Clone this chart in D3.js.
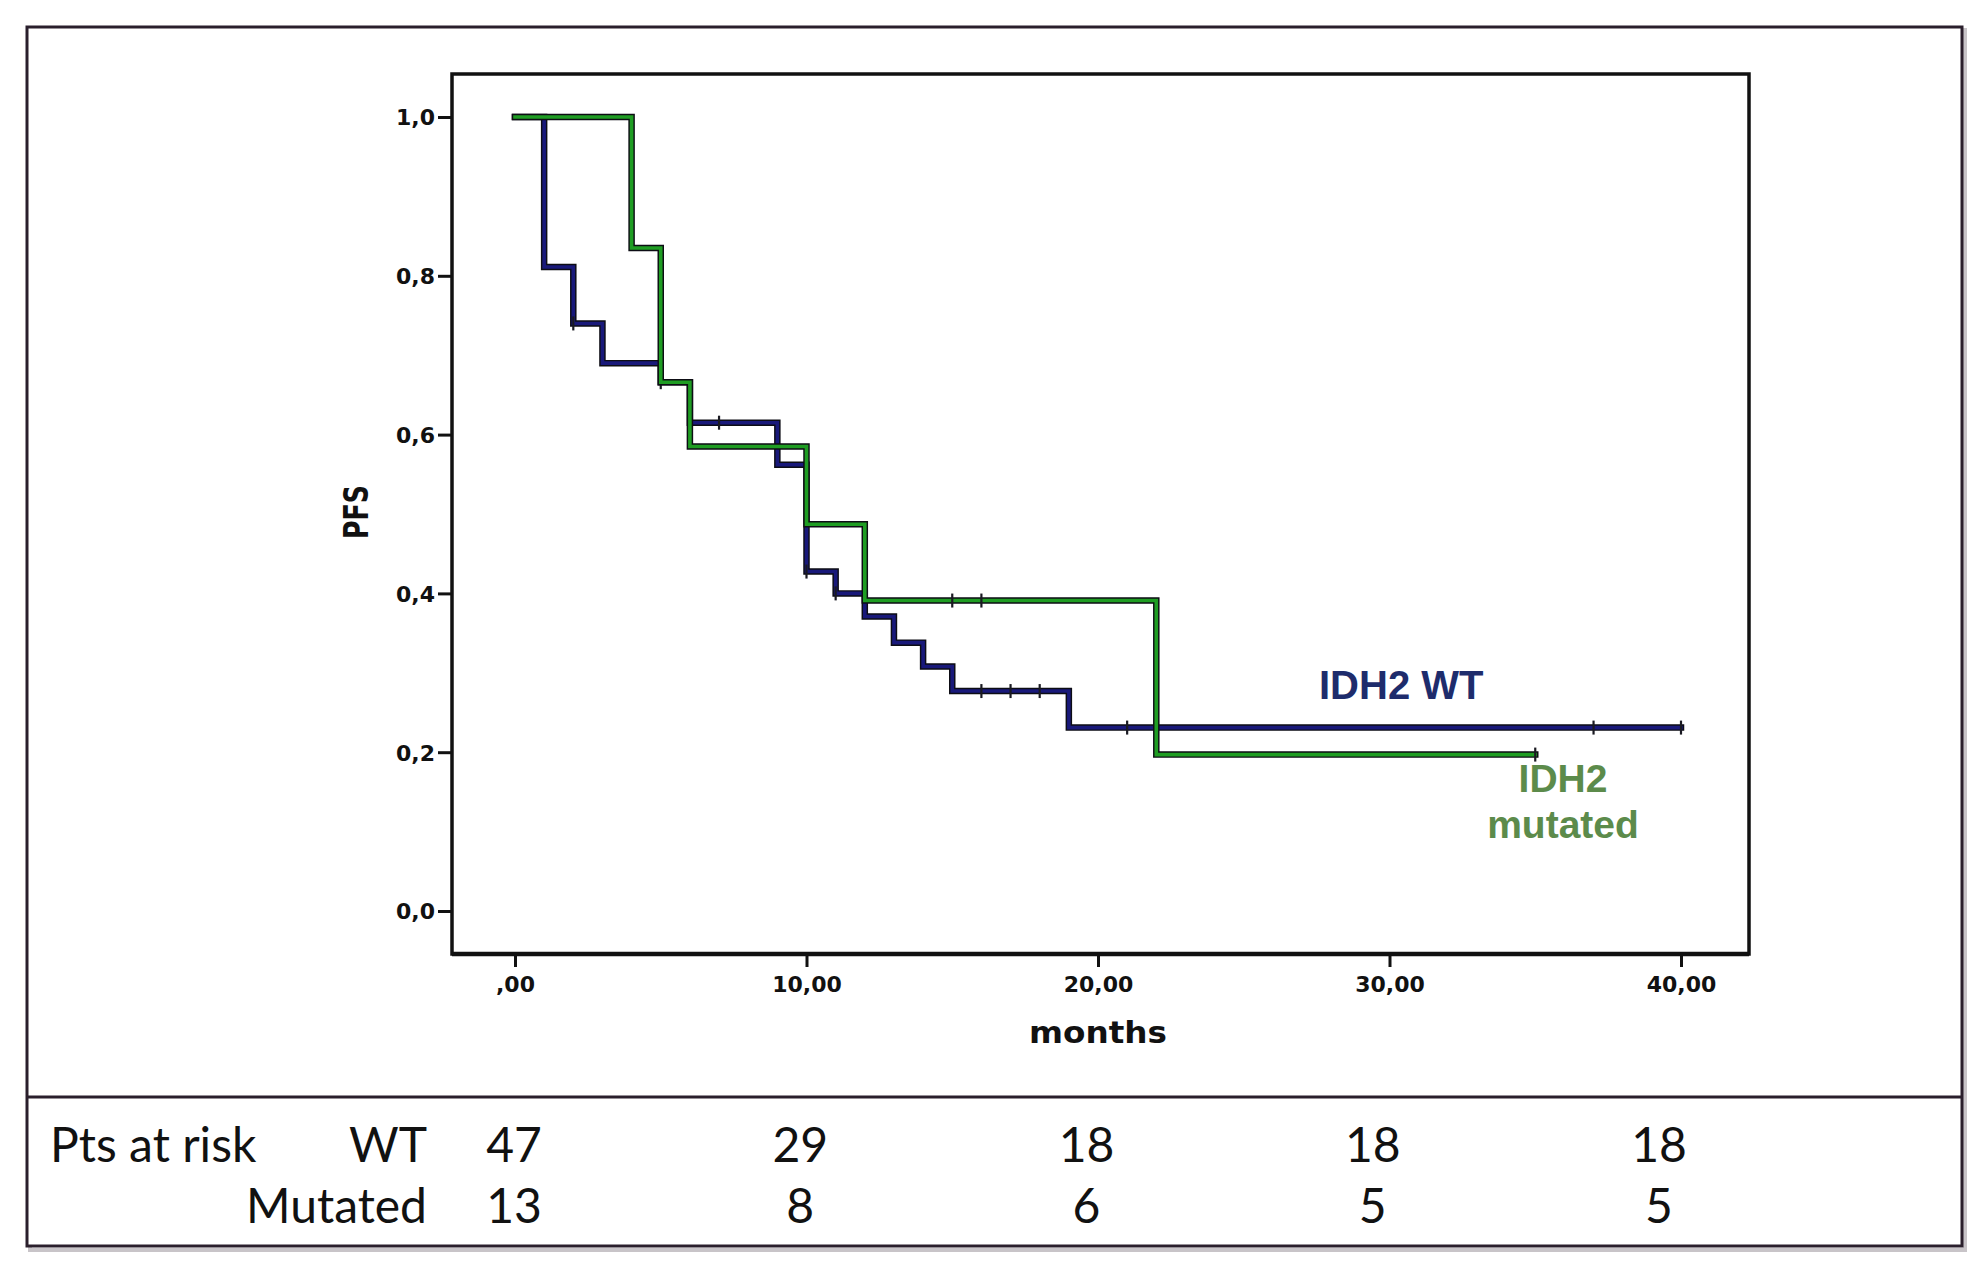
<!DOCTYPE html>
<html>
<head>
<meta charset="utf-8">
<script src="https://cdn.jsdelivr.net/npm/d3@7"></script>
<style>
  html, body { margin: 0; padding: 0; background: #ffffff; }
  svg { display: block; }
</style>
</head>
<body>
<div id="chart"></div>
<script>
// Kaplan-Meier PFS, IDH2 WT vs mutated

const wtTimes = [0, 1, 2, 3, 5, 6, 9, 10, 11, 12, 13, 14, 15, 19];
const wtSurv = [1.0, 0.811, 0.740, 0.690, 0.666, 0.615, 0.562, 0.4275, 0.400, 0.371, 0.338, 0.308, 0.277, 0.231];
const wtEnd = 40;
const wtCensored = [2, 5, 7, 10, 11, 16, 17, 18, 21, 37, 40];

const mutTimes = [0, 4, 5, 6, 10, 12, 22];
const mutSurv = [1.0, 0.835, 0.666, 0.585, 0.487, 0.391, 0.197];
const mutEnd = 35;
const mutCensored = [15, 16, 35];

const xTicks = [0, 10, 20, 30, 40];
const xTickLabels = [',00', '10,00', '20,00', '30,00', '40,00'];
const yTicks = [0, 0.2, 0.4, 0.6, 0.8, 1.0];
const yTickLabels = ['0,0', '0,2', '0,4', '0,6', '0,8', '1,0'];

const riskGroups = ['WT', 'Mutated'];
const riskTimes = [0, 10, 20, 30, 40];
const riskWT = [47, 29, 18, 18, 18];
const riskMut = [13, 8, 6, 5, 5];

const width = 1985;
const height = 1270;

const svg = d3.select('#chart').append('svg')
  .attr('width', width)
  .attr('height', height);

// outer box with a faint shadow
svg.append('rect')
  .attr('x', 30).attr('y', 30).attr('width', 1935).attr('height', 1220)
  .attr('fill', 'none').attr('stroke', '#c8c4c8').attr('stroke-width', 4);
svg.append('rect')
  .attr('x', 27).attr('y', 27).attr('width', 1935).attr('height', 1219)
  .attr('fill', '#ffffff').attr('stroke', '#2a1f2c').attr('stroke-width', 3);
svg.append('line')
  .attr('x1', 27).attr('x2', 1962).attr('y1', 1097).attr('y2', 1097)
  .attr('stroke', '#2a1f2c').attr('stroke-width', 3);

const plot = { left: 452, top: 74, right: 1749, bottom: 954 };

const x = d3.scaleLinear().domain([0, 40]).range([515, 1681]);
const y = d3.scaleLinear().domain([0, 1]).range([911, 117]);

// axes
const yAxis = d3.axisLeft(y)
  .tickValues(yTicks)
  .tickSize(14)
  .tickPadding(3)
  .tickFormat((d, i) => yTickLabels[i]);

const xAxis = d3.axisBottom(x)
  .tickValues(xTicks)
  .tickSize(13)
  .tickPadding(9)
  .tickFormat((d, i) => xTickLabels[i]);

const gy = svg.append('g')
  .attr('transform', `translate(${plot.left},0)`)
  .call(yAxis);
const gx = svg.append('g')
  .attr('transform', `translate(0,${plot.bottom})`)
  .call(xAxis);

[gx, gy].forEach(g => {
  g.select('.domain').remove();
  g.selectAll('.tick line').attr('stroke', '#111').attr('stroke-width', 3);
  g.selectAll('.tick text')
    .attr('fill', '#111')
    .style('font-family', '"DejaVu Sans", Verdana, sans-serif')
    .style('font-weight', 'bold')
    .style('font-size', '22px');
});
gy.selectAll('.tick text').attr('dy', '0.36em');

// plot frame
svg.append('rect')
  .attr('x', plot.left).attr('y', plot.top)
  .attr('width', plot.right - plot.left).attr('height', plot.bottom - plot.top)
  .attr('fill', 'none').attr('stroke', '#111').attr('stroke-width', 3.5);
svg.append('line')
  .attr('x1', plot.left).attr('x2', plot.right)
  .attr('y1', plot.bottom).attr('y2', plot.bottom)
  .attr('stroke', '#111').attr('stroke-width', 4.5);

// axis titles
svg.append('text')
  .attr('x', 1098).attr('y', 1043)
  .attr('text-anchor', 'middle')
  .attr('textLength', 138).attr('lengthAdjust', 'spacingAndGlyphs')
  .style('font-family', '"DejaVu Sans", Verdana, sans-serif')
  .style('font-weight', 'bold')
  .style('font-size', '30px')
  .attr('fill', '#111')
  .text('months');

svg.append('text')
  .attr('transform', 'translate(368,512) rotate(-90)')
  .attr('text-anchor', 'middle')
  .attr('textLength', 54).attr('lengthAdjust', 'spacingAndGlyphs')
  .style('font-family', '"DejaVu Sans", Verdana, sans-serif')
  .style('font-weight', 'bold')
  .style('font-size', '34px')
  .attr('fill', '#111')
  .text('PFS');

// survival curves
const stepLine = d3.line()
  .x(d => x(d[0]))
  .y(d => y(d[1]))
  .curve(d3.curveStepAfter);

function curvePoints(times, surv, end) {
  const pts = times.map((t, i) => [t, surv[i]]);
  pts.push([end, surv[surv.length - 1]]);
  return pts;
}

function survAt(times, surv, t) {
  let v = surv[0];
  times.forEach((tt, i) => { if (tt <= t) v = surv[i]; });
  return v;
}

const series = [
  { times: wtTimes, surv: wtSurv, end: wtEnd, cens: wtCensored, color: '#19197a' },
  { times: mutTimes, surv: mutSurv, end: mutEnd, cens: mutCensored, color: '#1f9d23' }
];

series.forEach(s => {
  const pts = curvePoints(s.times, s.surv, s.end);
  svg.append('path')
    .attr('d', stepLine(pts))
    .attr('fill', 'none')
    .attr('stroke', '#0d0d14')
    .attr('stroke-width', 6.5)
    .attr('stroke-linejoin', 'miter')
    .attr('stroke-linecap', 'square');
  svg.append('path')
    .attr('d', stepLine(pts))
    .attr('fill', 'none')
    .attr('stroke', s.color)
    .attr('stroke-width', 3.6)
    .attr('stroke-linejoin', 'miter')
    .attr('stroke-linecap', 'square');

  svg.append('g').selectAll('line')
    .data(s.cens)
    .join('line')
    .attr('x1', d => x(d)).attr('x2', d => x(d))
    .attr('y1', d => y(survAt(s.times, s.surv, d)) - 7)
    .attr('y2', d => y(survAt(s.times, s.surv, d)) + 7)
    .attr('stroke', '#1a1a22')
    .attr('stroke-width', 2.2);
});

// curve labels
const labelFont = '"Liberation Sans", Arial, sans-serif';
svg.append('text')
  .attr('x', 1319).attr('y', 699)
  .style('font-family', labelFont)
  .style('font-weight', 'bold')
  .style('font-size', '40px')
  .attr('fill', '#1e2c6c')
  .text('IDH2 WT');

svg.append('text')
  .attr('x', 1563).attr('y', 792)
  .attr('text-anchor', 'middle')
  .style('font-family', labelFont)
  .style('font-weight', 'bold')
  .style('font-size', '39px')
  .attr('fill', '#5c8b4b')
  .text('IDH2');
svg.append('text')
  .attr('x', 1563).attr('y', 838)
  .attr('text-anchor', 'middle')
  .style('font-family', labelFont)
  .style('font-weight', 'bold')
  .style('font-size', '39px')
  .attr('fill', '#5c8b4b')
  .text('mutated');

// numbers at risk
const tableX = d3.scaleLinear().domain([0, 40]).range([514, 1659]);
const rowY = d3.scalePoint().domain(riskGroups).range([1162, 1223]);
const tableFont = 'Lato, "Open Sans", sans-serif';
const tableSize = '48px';

svg.append('text')
  .attr('x', 50).attr('y', rowY('WT'))
  .style('font-family', tableFont).style('font-size', tableSize)
  .attr('fill', '#111')
  .text('Pts at risk');

svg.append('g').selectAll('text')
  .data(riskGroups)
  .join('text')
  .attr('x', 427)
  .attr('y', d => rowY(d))
  .attr('text-anchor', 'end')
  .style('font-family', tableFont).style('font-size', tableSize)
  .attr('fill', '#111')
  .text(d => d);

[riskWT, riskMut].forEach((row, r) => {
  svg.append('g').selectAll('text')
    .data(row)
    .join('text')
    .attr('x', (d, i) => tableX(riskTimes[i]))
    .attr('y', rowY(riskGroups[r]))
    .attr('text-anchor', 'middle')
    .style('font-family', tableFont).style('font-size', tableSize)
    .attr('fill', '#111')
    .text(d => d);
});
</script>
</body>
</html>
